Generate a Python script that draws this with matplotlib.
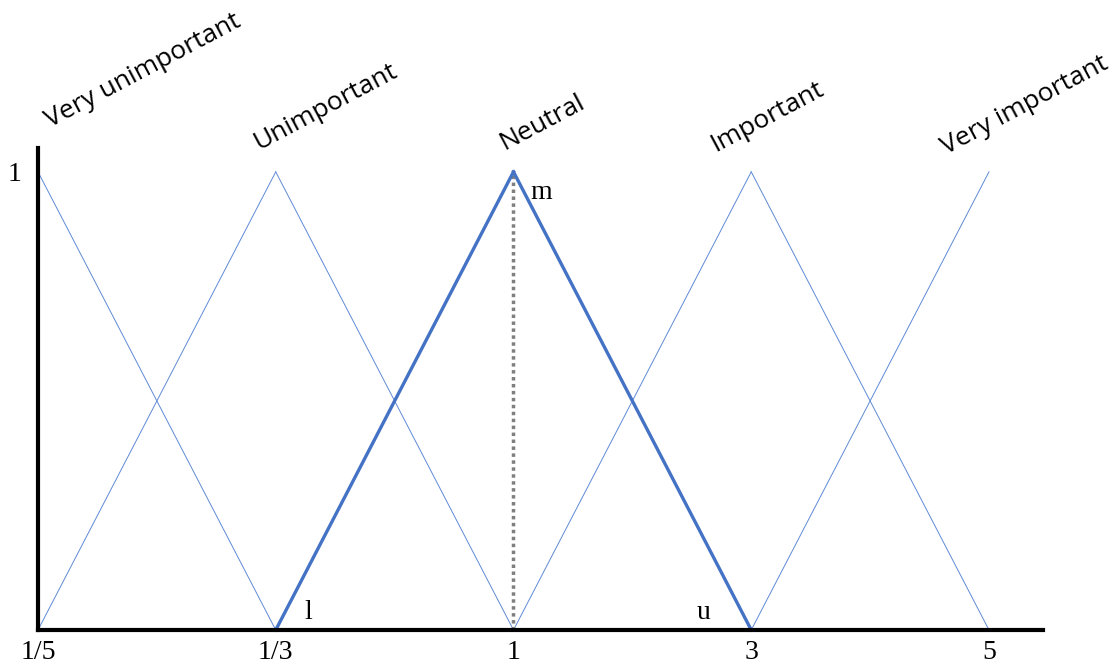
import matplotlib
matplotlib.use('Agg')
import matplotlib.pyplot as plt

# scale labels on the x axis (positions 0..4)
scale_labels = ['1/5', '1/3', '1', '3', '5']
terms = ['Very unimportant', 'Unimportant', 'Neutral', 'Important', 'Very important']
# triangular fuzzy numbers (l, m, u) as index on the scale
tfn_l = [0, 0, 1, 2, 3]
tfn_m = [0, 1, 2, 3, 4]
tfn_u = [1, 2, 3, 4, 4]
highlight = 'Neutral'

blue = '#4472C4'
serif = 'Liberation Serif'

fig = plt.figure(figsize=(11.16, 6.67), dpi=100)
ax = fig.add_axes([0.03405, 0.05547, 0.9005, 0.7226])

# membership functions
for name, l, m, u in zip(terms, tfn_l, tfn_m, tfn_u):
    thick = name == highlight
    lw = 2.4 if thick else 0.7
    col = blue if thick else '#5f8ad6'
    z = 3 if thick else 2
    if l < m:
        ax.plot([l, m], [0, 1], color=col, lw=lw, zorder=z, clip_on=False)
    if m < u:
        ax.plot([m, u], [1, 0], color=col, lw=lw, zorder=z, clip_on=False)

# vertical dotted line at the peak of the highlighted term
i = terms.index(highlight)
ax.plot([tfn_m[i], tfn_m[i]], [0, 1], color='#7f7f7f', lw=2.5, ls=(0, (1, 1)), zorder=2)

# l, m, u annotations
ax.text(tfn_l[i] + 0.12, 0.025, 'l', fontsize=20, family=serif, ha='left', va='baseline')
ax.text(tfn_m[i] + 0.07, 0.94, 'm', fontsize=20, family=serif, ha='left', va='baseline')
ax.text(tfn_u[i] - 0.23, 0.025, 'u', fontsize=20, family=serif, ha='left', va='baseline')

# rotated term names above the peaks
label_pos = [(0.05, 1.096), (0.93, 1.048), (1.96, 1.048), (2.85, 1.044), (3.82, 1.037)]
for name, (x, y) in zip(terms, label_pos):
    ax.text(x, y, name, fontsize=19, family='Open Sans', rotation=28,
            rotation_mode='anchor', ha='left', va='baseline', clip_on=False)

ax.set_xlim(0, 4.227)
ax.set_ylim(0, 1.052)
ax.set_xticks(range(len(scale_labels)))
ax.set_xticklabels(scale_labels, fontsize=20, family=serif)
ax.set_yticks([1])
ax.set_yticklabels(['1'], fontsize=20, family=serif)
ax.tick_params(length=0, pad=7)
ax.tick_params(axis='y', pad=12)

for s in ['top', 'right']:
    ax.spines[s].set_visible(False)
for s in ['left', 'bottom']:
    ax.spines[s].set_linewidth(3)
    ax.spines[s].set_color('black')
    ax.spines[s].set_zorder(5)

fig.savefig('out.png', dpi=100)
